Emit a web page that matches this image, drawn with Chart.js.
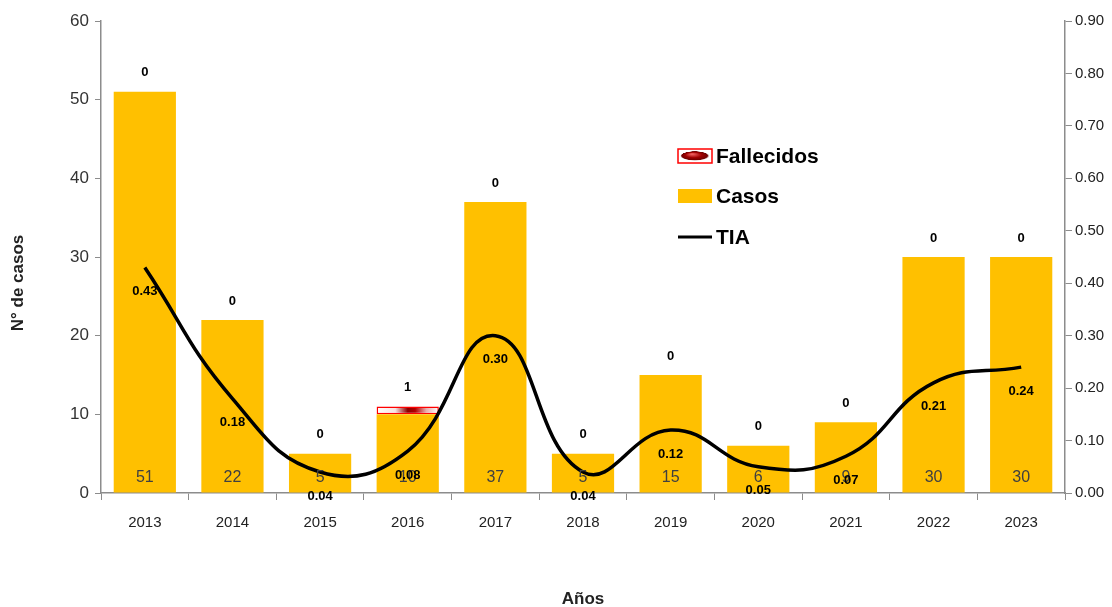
<!DOCTYPE html>
<html>
<head>
<meta charset="utf-8">
<script src="https://cdn.jsdelivr.net/npm/chart.js@4.4.1/dist/chart.umd.min.js"></script>
<style>
    html, body { margin: 0; padding: 0; background: #fff; }
    #wrap { position: relative; width: 1112px; height: 607px; }
</style>
</head>
<body>
<div id="wrap"><canvas id="chart" width="1112" height="607"></canvas></div>
<script>
'use strict';

// Data
const years = ['2013', '2014', '2015', '2016', '2017', '2018', '2019', '2020', '2021', '2022', '2023'];
const casos = [51, 22, 5, 10, 37, 5, 15, 6, 9, 30, 30];
const fallecidos = [0, 0, 0, 1, 0, 0, 0, 0, 0, 0, 0];
const tia = [0.43, 0.18, 0.04, 0.08, 0.30, 0.04, 0.12, 0.05, 0.07, 0.21, 0.24];
const casosTicks = [0, 10, 20, 30, 40, 50, 60];
const tiaTicks = [0, 0.1, 0.2, 0.3, 0.4, 0.5, 0.6, 0.7, 0.8, 0.9];

const YELLOW = '#FFC000';
const AXIS = '#8c8c8c';
const BAR_PCT = 0.71;
const NARROW = '"Liberation Sans Narrow", "Liberation Sans", Arial, sans-serif';
const SANS = '"Liberation Sans", Arial, sans-serif';

// Red "3D" fill for the Fallecidos bar, built from the x scale
function redGradient(ctx) {
    const xs = ctx.chart.scales.x;
    if (!xs || ctx.dataIndex === undefined || !ctx.chart.chartArea) return '#c00000';
    const cx = xs.getPixelForValue(ctx.dataIndex);
    const w = (xs.width / years.length) * BAR_PCT;
    const x0 = cx - w / 2;
    const g = ctx.chart.ctx.createLinearGradient(x0, 0, x0 + w, 0);
    g.addColorStop(0, '#ffffff');
    g.addColorStop(0.3, '#f6e4e4');
    g.addColorStop(0.5, '#8a0000');
    g.addColorStop(0.62, '#b00000');
    g.addColorStop(0.8, '#e8b0b0');
    g.addColorStop(1, '#ffffff');
    return g;
}

// Value labels + y title
const labelsPlugin = {
    id: 'valueLabels',
    afterDatasetsDraw(chart) {
        const c = chart.ctx;
        c.save();
        c.textAlign = 'center';
        c.textBaseline = 'middle';

        // casos inside bar, near the base
        c.font = '16px ' + NARROW;
        c.fillStyle = '#404040';
        chart.getDatasetMeta(0).data.forEach((bar, i) => {
            c.fillText(String(casos[i]), bar.x, bar.base - 15);
        });

        // fallecidos above the stack
        c.font = 'bold 13px ' + SANS;
        c.fillStyle = '#000';
        chart.getDatasetMeta(1).data.forEach((bar, i) => {
            c.fillText(String(fallecidos[i]), bar.x, bar.y - 19);
        });

        // TIA under the line points
        chart.getDatasetMeta(2).data.forEach((pt, i) => {
            c.fillText(tia[i].toFixed(2), pt.x, pt.y + 24);
        });

        // y axis title, sits a bit below the axis centre in the reference
        c.translate(18, 283);
        c.rotate(-Math.PI / 2);
        c.font = 'bold 17px ' + SANS;
        c.fillStyle = '#222';
        c.fillText('N° de casos', 0, 0);
        c.restore();
    }
};

// Legend drawn inside the plot area
const legendPlugin = {
    id: 'insideLegend',
    afterDraw(chart) {
        const c = chart.ctx;
        const x = 678, w = 34;
        c.save();
        c.font = 'bold 21px ' + NARROW;
        c.textBaseline = 'middle';
        c.textAlign = 'left';

        // Fallecidos
        let y = 156;
        c.fillStyle = '#fff';
        c.fillRect(x, y - 7, w, 14);
        c.save();
        c.translate(x + w / 2, y);
        c.scale(1, 0.33);
        const g = c.createRadialGradient(-3, -6, 1, 0, 0, 15);
        g.addColorStop(0, '#f06060');
        g.addColorStop(0.5, '#a00000');
        g.addColorStop(0.85, '#700000');
        g.addColorStop(1, 'rgba(255,255,255,0)');
        c.beginPath();
        c.arc(0, 0, 15, 0, Math.PI * 2);
        c.fillStyle = g;
        c.fill();
        c.restore();
        c.strokeStyle = '#ff0000';
        c.lineWidth = 1.5;
        c.strokeRect(x, y - 7, w, 14);
        c.fillStyle = '#000';
        c.fillText('Fallecidos', x + w + 4, y + 1);

        // Casos
        y = 196;
        c.fillStyle = YELLOW;
        c.fillRect(x, y - 7, w, 14);
        c.fillStyle = '#000';
        c.fillText('Casos', x + w + 4, y + 1);

        // TIA
        y = 237;
        c.strokeStyle = '#000';
        c.lineWidth = 3;
        c.beginPath();
        c.moveTo(x, y);
        c.lineTo(x + w, y);
        c.stroke();
        c.fillText('TIA', x + w + 4, y + 1);
        c.restore();
    }
};

new Chart(document.getElementById('chart'), {
    type: 'bar',
    data: {
        labels: years,
        datasets: [
            {
                label: 'Casos',
                data: casos,
                backgroundColor: YELLOW,
                borderWidth: 0,
                stack: 's',
                order: 2,
                yAxisID: 'y',
            },
            {
                label: 'Fallecidos',
                data: fallecidos,
                backgroundColor: redGradient,
                borderColor: '#ff0000',
                borderWidth: 1.5,
                borderSkipped: false,
                stack: 's',
                order: 2,
                yAxisID: 'y',
            },
            {
                type: 'line',
                label: 'TIA',
                data: tia,
                borderColor: '#000',
                borderWidth: 3.5,
                pointRadius: 0,
                tension: 0.45,
                fill: false,
                order: 1,
                yAxisID: 'y1',
            }
        ]
    },
    options: {
        responsive: false,
        animation: false,
        devicePixelRatio: 1,
        layout: { padding: { top: 21, right: 0, left: 0, bottom: 0 } },
        datasets: {
            bar: { categoryPercentage: 1, barPercentage: BAR_PCT }
        },
        plugins: {
            legend: { display: false },
            tooltip: { enabled: false }
        },
        scales: {
            x: {
                stacked: true,
                grid: { display: true, drawOnChartArea: false, drawTicks: true, tickLength: 7, color: AXIS },
                border: { display: true, color: AXIS, width: 1.5 },
                ticks: { color: '#222', font: { family: SANS, size: 15 }, padding: 14, maxRotation: 0 },
                title: {
                    display: true, text: 'Años', color: '#222',
                    font: { family: SANS, size: 17, weight: 'bold' },
                    padding: { top: 0, bottom: -3 }
                },
                afterFit(scale) { scale.height = 114; }
            },
            y: {
                stacked: true,
                position: 'left',
                min: 0,
                max: 60,
                afterBuildTicks(scale) { scale.ticks = casosTicks.map(v => ({ value: v })); },
                grid: { display: true, drawOnChartArea: false, drawTicks: true, tickLength: 6, color: AXIS },
                border: { display: true, color: AXIS, width: 1.5 },
                ticks: { color: '#333', font: { family: NARROW, size: 17 }, padding: 6 },
                afterFit(scale) { scale.width = 101; }
            },
            y1: {
                position: 'right',
                min: 0,
                max: 0.9,
                afterBuildTicks(scale) { scale.ticks = tiaTicks.map(v => ({ value: v })); },
                grid: { display: true, drawOnChartArea: false, drawTicks: true, tickLength: 7, color: AXIS },
                border: { display: true, color: AXIS, width: 1.5 },
                ticks: {
                    color: '#222', font: { family: SANS, size: 15 }, padding: 3,
                    callback: v => Number(v).toFixed(2)
                },
                afterFit(scale) { scale.width = 47; }
            }
        }
    },
    plugins: [labelsPlugin, legendPlugin]
});
</script>
</body>
</html>
